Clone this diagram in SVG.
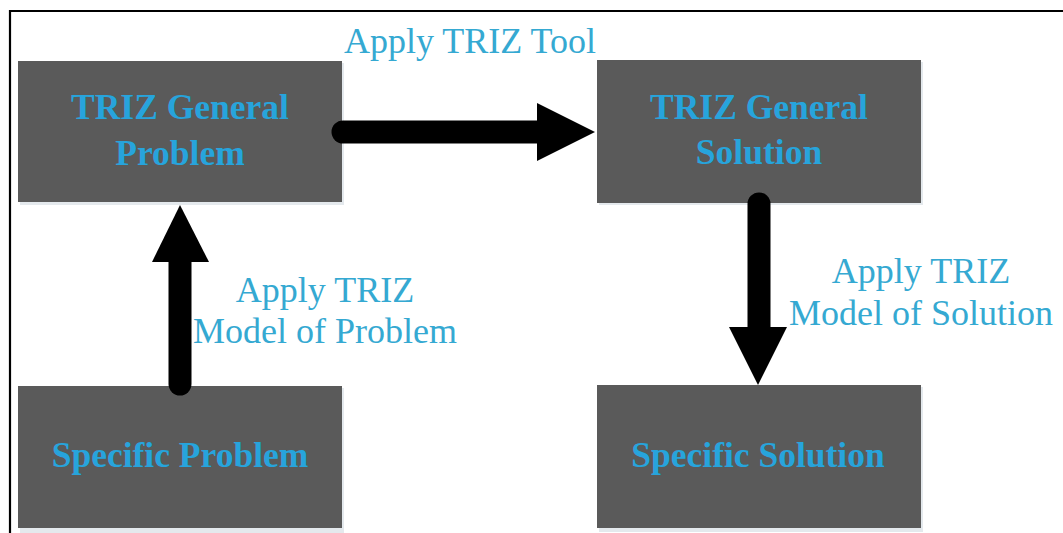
<svg xmlns="http://www.w3.org/2000/svg" width="1063" height="533" viewBox="0 0 1063 533">
<style>
.box{fill:#5a5a5a;}
.shadow{fill:#e4e9ed;}
.nt{font-family:"Liberation Serif",serif;font-weight:bold;font-size:35.5px;fill:#27a4dc;text-anchor:middle;}
.lb{font-family:"Liberation Serif",serif;font-size:36px;fill:#35a9d2;text-anchor:middle;}
.shaft{stroke:#000;stroke-width:23;stroke-linecap:round;fill:none;}
.head{fill:#000;}
</style>
<rect width="1063" height="533" fill="#fff"/>
<path d="M10,533 V11 H1063" fill="none" stroke="#000" stroke-width="2.2"/>
<g id="n-general-problem">
<rect class="shadow" x="20" y="63" width="324" height="142"/>
<rect class="box" x="18" y="61" width="324" height="141"/>
<text class="nt" x="180" y="119">TRIZ General</text>
<text class="nt" x="180" y="165">Problem</text>
</g>
<g id="n-general-solution">
<rect class="shadow" x="599" y="62" width="324" height="143"/>
<rect class="box" x="597" y="60" width="324" height="143"/>
<text class="nt" x="759" y="119">TRIZ General</text>
<text class="nt" x="759" y="164">Solution</text>
</g>
<g id="n-specific-problem">
<rect class="shadow" x="20" y="388" width="324" height="145"/>
<rect class="box" x="18" y="386" width="324" height="142"/>
<text class="nt" x="180" y="467">Specific Problem</text>
</g>
<g id="n-specific-solution">
<rect class="shadow" x="599" y="387" width="324" height="145"/>
<rect class="box" x="597" y="385" width="324" height="143"/>
<text class="nt" x="758" y="467">Specific Solution</text>
</g>
<g id="connectors">
<line class="shaft" x1="343" y1="132" x2="540" y2="132"/>
<polygon class="head" points="537,103 595,132 537,161"/>
<line class="shaft" x1="180" y1="384" x2="180" y2="258"/>
<polygon class="head" points="152,262 180,205 209,262"/>
<line class="shaft" x1="759" y1="204" x2="759" y2="330"/>
<polygon class="head" points="729,327 758,385 787,327"/>
</g>
<g id="labels">
<text class="lb" x="470" y="53">Apply TRIZ Tool</text>
<text class="lb" x="325" y="302">Apply TRIZ</text>
<text class="lb" x="325" y="343">Model of Problem</text>
<text class="lb" x="921" y="283">Apply TRIZ</text>
<text class="lb" x="921" y="325">Model of Solution</text>
</g>
</svg>
